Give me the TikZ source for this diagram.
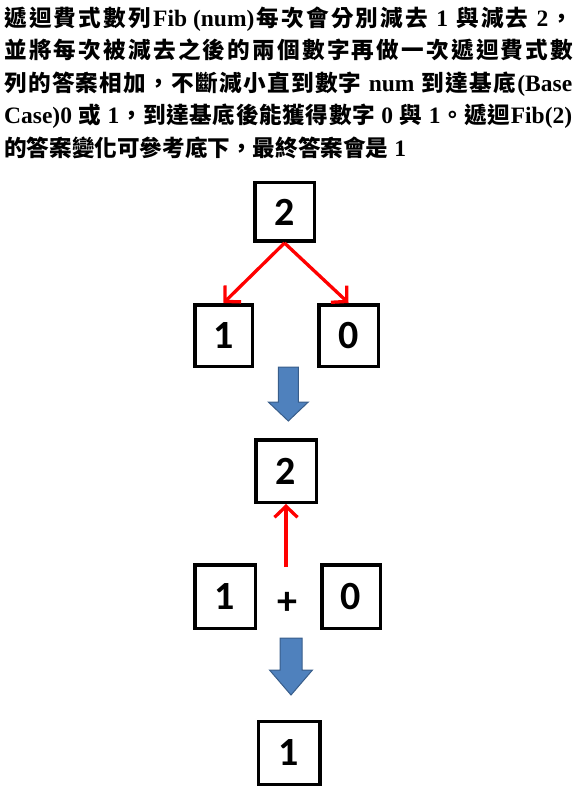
\documentclass[tikz,border=0pt]{standalone}
\usepackage{fontspec}
\usetikzlibrary{arrows.meta}
\setmainfont{Liberation Serif}
\newfontfamily\cjkfont{Noto Sans CJK TC}
\newfontfamily\latfontbase{Liberation Serif}
\newcommand\latfont{\latfontbase\bfseries\fontsize{23.5pt}{26pt}\selectfont}
\newfontfamily\numfont{Carlito}
\definecolor{arrowblue}{HTML}{4F81BD}
\definecolor{arrowedge}{HTML}{385D8A}
\makeatletter
\newcommand\spreadline[2]{\makebox[#1][s]{\@tfor\sl@t:=#2\do{{\sl@t}\hskip 0pt plus 1fil}\unskip}}
\makeatother
\tikzset{
  txt/.style={inner sep=0pt, anchor=base west, font=\cjkfont\bfseries\fontsize{22.6pt}{26pt}\selectfont},
  numbox/.style={draw=black, line width=3.5pt, inner sep=0pt, font=\numfont\bfseries\fontsize{40pt}{40pt}\selectfont},
  plainnum/.style={inner sep=0pt, font=\numfont\bfseries\fontsize{40pt}{40pt}\selectfont},
  redarrow/.style={draw=red, line width=3.3pt, -{Straight Barb[length=11pt,width=23pt]}},
  bluearrow/.style={fill=arrowblue, draw=arrowedge, line width=1pt, line join=miter}
}
\begin{document}
\begin{tikzpicture}[x=1pt,y=-1pt]
\useasboundingbox (0,0) rectangle (576,791);
% text
\node[txt] (t1) at (4,26.4) {\spreadline{569pt}{遞迴費式數列{\latfont Fib (num)}每次會分別減去{\latfont\ 1\ }與減去{\latfont\ 2}，}};
\node[txt] (t2) at (4,58.9) {\spreadline{569pt}{並將每次被減去之後的兩個數字再做一次遞迴費式數}};
\node[txt] (t3) at (4,91.4) {\spreadline{568pt}{列的答案相加，不斷減小直到數字{\latfont\ num\ }到達基底{\latfont(Base}}};
\node[txt] (t4) at (4,123.9) {\spreadline{568pt}{{\latfont Case)0\ }或{\latfont\ 1}，到達基底後能獲得數字{\latfont\ 0\ }與{\latfont\ 1}。遞迴{\latfont Fib(2)}}};
\node[txt] (t5) at (4,156.4) {的答案變化可參考底下，最終答案會是{\latfont\ 1}};
% boxes
\node[numbox, minimum width=59.5pt, minimum height=58.5pt] (a) at (284.5,212) {2};
\node[numbox, minimum width=57.5pt, minimum height=61.5pt] (b) at (223.5,335.5) {1};
\node[numbox, minimum width=59.5pt, minimum height=61.5pt] (c) at (348.5,335.5) {0};
\node[numbox, minimum width=60.5pt, minimum height=62.5pt] (d) at (286,471) {2};
\node[numbox, minimum width=60.5pt, minimum height=63.5pt] (e) at (225,596.5) {1};
\node[plainnum] (plus) at (287,603) {+};
\node[numbox, minimum width=58.5pt, minimum height=63.5pt] (f) at (351,596.5) {0};
\node[numbox, minimum width=61.5pt, minimum height=63pt] (g) at (289,753) {1};
% red arrows
\draw[redarrow] (a.south) -- (b.north);
\draw[redarrow] (a.south) -- (c.north);
\coordinate (upstart) at (286,567);
\draw[redarrow] (upstart) -- (d.south);
% blue arrows
\path[bluearrow] (278.3,367) -- (298.3,367) -- (298.3,402) -- (308.3,402) -- (288.3,421) -- (268.3,402) -- (278.3,402) -- cycle;
\path[bluearrow] (280,638) -- (302,638) -- (302,670) -- (312.5,670) -- (291,695) -- (269.5,670) -- (280,670) -- cycle;
\end{tikzpicture}
\end{document}
